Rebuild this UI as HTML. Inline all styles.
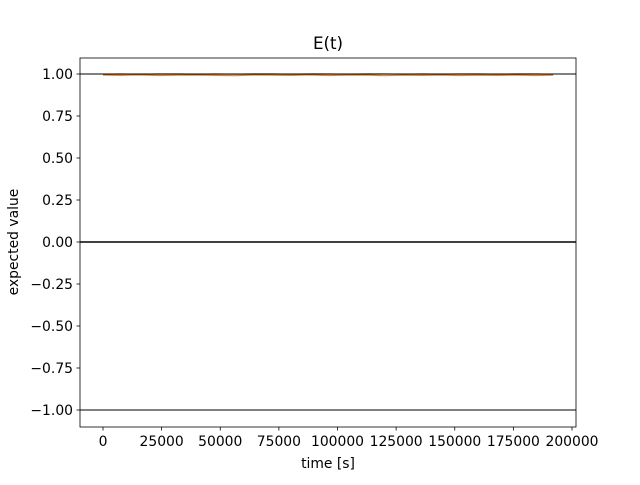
<!DOCTYPE html>
<html><head><meta charset="utf-8"><style>
body{margin:0;background:#fff;font-family:"Liberation Sans","DejaVu Sans",sans-serif}
svg text{font-family:"DejaVu Sans","Liberation Sans",sans-serif;font-size:13.9px;fill:#000}
</style></head><body>
<svg id="c" width="640" height="480" xmlns="http://www.w3.org/2000/svg">
<rect width="640" height="480" fill="#fff"/>
<text x="328" y="49" text-anchor="middle" style="font-size:16.7px">E(t)</text>
<text x="328" y="468" text-anchor="middle">time [s]</text>
<text transform="translate(18,242) rotate(-90)" text-anchor="middle">expected value</text>
<g id="g"></g>
<rect x="80" y="58" width="496" height="369" fill="none" stroke="#000" stroke-width="0.8"/>
</svg>
<script>
const times=[0,8000,16000,24000,32000,40000,48000,56000,64000,72000,80000,88000,96000,104000,112000,120000,128000,136000,144000,152000,160000,168000,176000,184000,192000];
const seriesA=[0.999,1.0,0.999,1.0,1.0,0.999,1.0,0.999,1.0,1.0,0.999,1.0,1.0,0.999,1.0,1.0,0.999,1.0,0.999,1.0,1.0,0.999,1.0,1.0,0.999];
const seriesB=[0.994,0.992,0.995,0.991,0.993,0.994,0.992,0.990,0.994,0.993,0.992,0.995,0.991,0.993,0.994,0.990,0.993,0.992,0.994,0.991,0.993,0.992,0.994,0.991,0.993];
const refLines=[1,0,-1];
const yTicks=[1,0.75,0.5,0.25,0,-0.25,-0.5,-0.75,-1];
const yTickLabels=["1.00","0.75","0.50","0.25","0.00","−0.25","−0.50","−0.75","−1.00"];
const xTicks=[0,25000,50000,75000,100000,125000,150000,175000,200000];
const X=v=>103+v*(469/200000);
const Y=v=>242-v*168;
const g=document.getElementById('g');
const NS='http://www.w3.org/2000/svg';
function mk(t,a){const e=document.createElementNS(NS,t);for(const k in a)e.setAttribute(k,a[k]);g.appendChild(e);return e;}
yTicks.forEach((v,i)=>{
 const t=mk('line',{x1:76.5,x2:80,y1:Y(v),y2:Y(v),stroke:'#000','stroke-width':0.8});
 
 
 const l=mk('text',{x:73,y:Y(v)+5,'text-anchor':'end'});l.textContent=yTickLabels[i];
 
 
});
xTicks.forEach(v=>{
 const t=mk('line',{x1:X(v),x2:X(v),y1:427,y2:430.5,stroke:'#000','stroke-width':0.8});
 
 
 const l=mk('text',{x:X(v),y:446,'text-anchor':'middle'});l.textContent=String(v);
 
 
});
function line(vals,color,name){
 const p=mk('polyline',{points:times.map((t,i)=>X(t)+','+Y(vals[i])).join(' '),fill:'none',stroke:color,'stroke-width':1.2});
 
 
}
line(seriesB,'#ff7f0e','series-orange-line');
line(seriesA,'#1f77b4','series-blue-line');
refLines.forEach(v=>{
 const r=mk('line',{x1:80,x2:576,y1:Y(v),y2:Y(v),stroke:'#000','stroke-width':v===0?1.5:1});
 
 
});
</script>
</body></html>
